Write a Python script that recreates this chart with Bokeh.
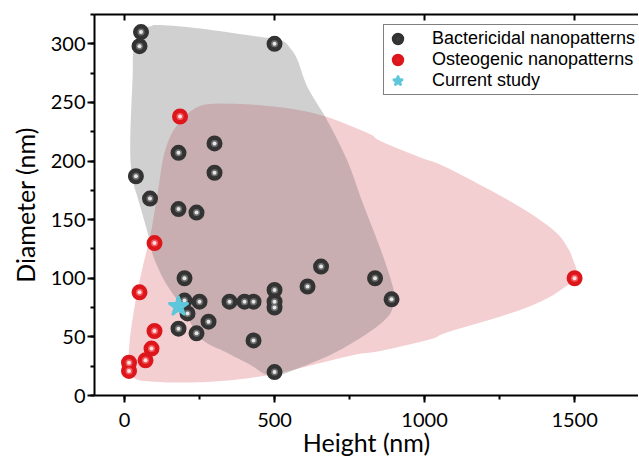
import numpy as np
from bokeh.plotting import figure
from bokeh.models import (Range1d, LinearAxis, Legend, LegendItem, SingleIntervalTicker,
                          CustomJSTickFormatter)
from bokeh.embed import file_html
from bokeh.resources import INLINE

# ---- data ----
bact_height = [55, 50, 500, 180, 300, 300, 38, 85, 180, 240, 200, 200, 250, 210,
               350, 400, 430, 500, 500, 500, 610, 655, 835, 890, 280, 180, 240, 430, 500]
bact_diameter = [310, 298, 300, 207, 215, 190, 187, 168, 159, 156, 100, 81, 80, 70,
                 80, 80, 80, 90, 80, 75, 93, 110, 100, 82, 63, 57, 53, 47, 20]
osteo_height = [185, 100, 50, 100, 90, 70, 15, 15, 1500]
osteo_diameter = [238, 130, 88, 55, 40, 30, 28, 21, 100]
current_height = [180]
current_diameter = [76]

# envelope outlines (traced, data units)
bact_region_x = [87, 120, 253, 420, 520, 553, 577, 610, 677, 743, 787, 820, 863, 897, 897,
                 877, 810, 697, 587, 510, 470, 420, 337, 253, 193, 137, 97, 80, 47, 30,
                 20, 20, 27, 30, 53]
bact_region_y = [315, 316, 313, 307, 303, 296, 286, 263, 234, 200, 169, 147, 118, 90, 78,
                 67, 53, 36, 24, 17, 18, 26, 37, 49, 75, 96, 118, 136, 166, 181,
                 200, 228, 271, 294, 311]
osteo_region_x = [13, 37, 87, 180, 303, 420, 530, 753, 853, 1020, 1077, 1297, 1410, 1470,
                  1497, 1507, 1493, 1477, 1430, 1297, 1077, 987, 853, 810, 643, 477, 310,
                  243, 197, 163, 143, 127, 110, 87, 60, 37, 20, 13]
osteo_region_y = [21, 14, 12, 11, 12, 15, 20, 34, 38, 48, 54, 71, 83, 93,
                  98, 106, 117, 126, 141, 164, 194, 203, 217, 224, 240, 247, 249,
                  246, 237, 226, 215, 200, 172, 138, 109, 81, 53, 32]

x_ticks_interval = 500
y_ticks_interval = 50


def smooth_closed(xs, ys, steps=8):
    P = np.column_stack([xs, ys]).astype(float)
    n = len(P)
    out = []
    for i in range(n):
        p0, p1, p2, p3 = P[(i - 1) % n], P[i], P[(i + 1) % n], P[(i + 2) % n]
        for t in np.linspace(0, 1, steps, endpoint=False):
            t2, t3 = t * t, t * t * t
            out.append(0.5 * ((2 * p1) + (-p0 + p2) * t + (2 * p0 - 5 * p1 + 4 * p2 - p3) * t2
                              + (-p0 + 3 * p1 - 3 * p2 + p3) * t3))
    out = np.array(out)
    return list(out[:, 0]), list(out[:, 1])


p = figure(width=638, height=460, x_range=Range1d(-100, 1713), y_range=Range1d(0, 325),
           output_backend="svg", toolbar_location=None,
           min_border_left=94, min_border_right=0, min_border_top=14, min_border_bottom=65)
p.outline_line_color = None
p.grid.visible = False
p.background_fill_color = "white"

ox, oy = smooth_closed(osteo_region_x, osteo_region_y)
bx, by = smooth_closed(bact_region_x, bact_region_y)
p.patch(ox, oy, fill_color="#f4cfd2", fill_alpha=1.0, line_color=None)
p.patch(bx, by, fill_color="#646464", fill_alpha=0.3, line_color=None)

# spheres: dark body (thick outline of same colour keeps legend glyph large) + highlight
b_outer = p.scatter(bact_height, bact_diameter, marker="circle", size=12,
                    fill_color="#3b3b3b", line_color="#333333", line_width=4)
p.scatter(bact_height, bact_diameter, marker="circle", size=7,
          fill_color="#6e6e6e", line_color=None)
p.scatter(bact_height, bact_diameter, marker="circle", size=4,
          fill_color="#e6e6e6", line_color=None)
r_outer = p.scatter(osteo_height, osteo_diameter, marker="circle", size=12,
                    fill_color="#e41d23", line_color="#dd161c", line_width=4)
p.scatter(osteo_height, osteo_diameter, marker="circle", size=7,
          fill_color="#f05a5e", line_color=None)
p.scatter(osteo_height, osteo_diameter, marker="circle", size=4,
          fill_color="#ffdede", line_color=None)
star = p.scatter(current_height, current_diameter, marker="star", size=19,
                 fill_color="#5ec7dc", line_color="#5ec7dc", line_width=3,
                 line_join="round")

font = "Lato"
for ax in (p.xaxis[0], p.yaxis[0]):
    ax.axis_line_width = 2
    ax.axis_line_color = "black"
    ax.major_tick_line_width = 2
    ax.minor_tick_line_width = 2
    ax.major_tick_out = 7
    ax.major_tick_in = 0
    ax.minor_tick_out = 4
    ax.minor_tick_in = 0
    ax.major_label_text_font = font
    ax.major_label_text_font_size = "20px"
    ax.major_label_text_color = "black"
    ax.axis_label_text_font = font
    ax.axis_label_text_font_size = "25px"
    ax.axis_label_text_font_style = "normal"
    ax.axis_label_text_color = "black"

p.xaxis[0].ticker = SingleIntervalTicker(interval=x_ticks_interval, num_minor_ticks=2)
p.yaxis[0].ticker = SingleIntervalTicker(interval=y_ticks_interval, num_minor_ticks=2)
p.xaxis[0].axis_label = "Height (nm)"
p.yaxis[0].axis_label = "Diameter (nm)"
p.xaxis[0].major_label_standoff = 10
p.xaxis[0].axis_label_standoff = -3
p.yaxis[0].major_label_standoff = 2
p.yaxis[0].axis_label_standoff = 8

top = LinearAxis(ticker=SingleIntervalTicker(interval=x_ticks_interval, num_minor_ticks=0),
                 formatter=CustomJSTickFormatter(code="return ''"),
                 major_label_standoff=0,
                 major_tick_out=0, major_tick_in=6, major_tick_line_width=2,
                 minor_tick_out=0, minor_tick_in=0, axis_line_width=2)
p.add_layout(top, "above")

legend = Legend(items=[
    LegendItem(label="Bactericidal nanopatterns", renderers=[b_outer]),
    LegendItem(label="Osteogenic nanopatterns", renderers=[r_outer]),
    LegendItem(label="Current study", renderers=[star]),
], location=(289, 300))
legend.glyph_width = 21
legend.glyph_height = 21
legend.label_height = 21
legend.spacing = 0
legend.padding = 3
legend.margin = 0
legend.label_standoff = 24
legend.label_text_font = "Liberation Sans"
legend.label_text_font_size = "18px"
legend.label_text_color = "black"
legend.border_line_color = "black"
legend.border_line_width = 1
legend.background_fill_alpha = 1.0
p.add_layout(legend)

open("out.html", "w").write(file_html(p, INLINE))
